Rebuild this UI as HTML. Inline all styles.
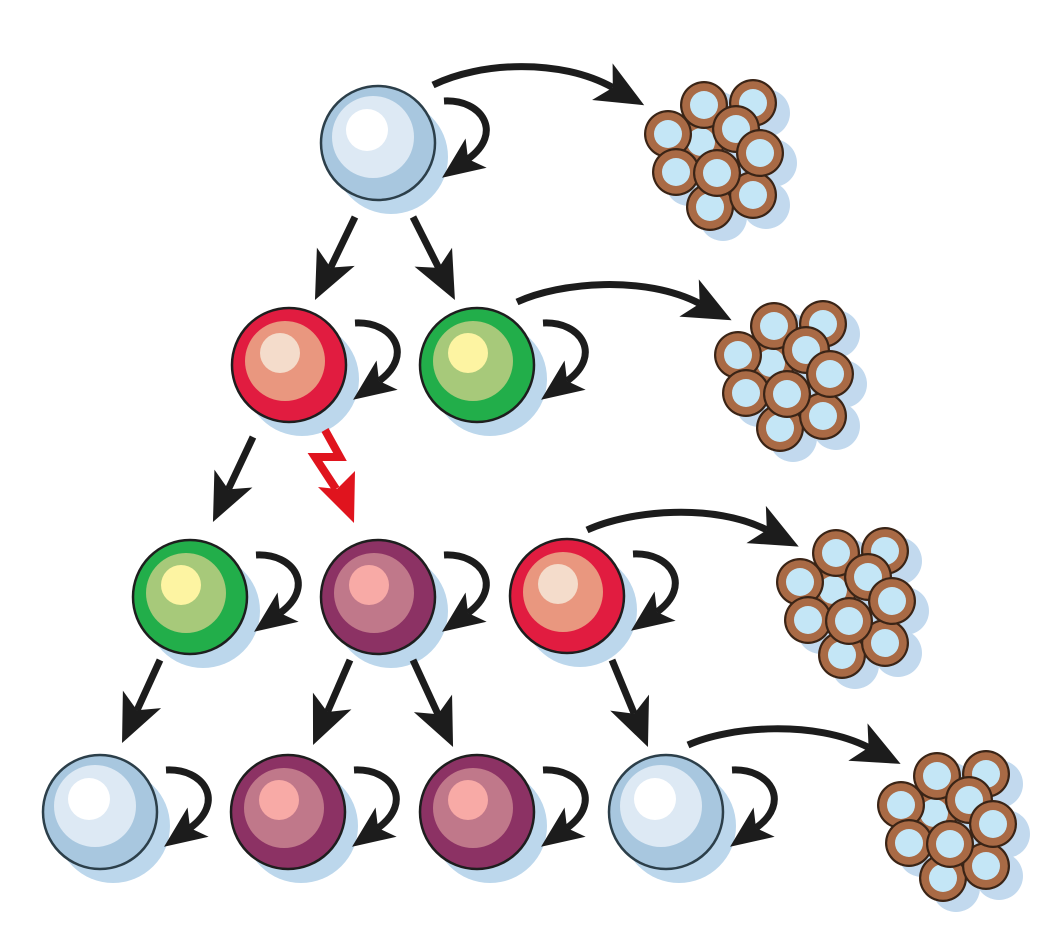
<!DOCTYPE html>
<html><head><meta charset="utf-8"><style>
html,body{margin:0;padding:0;background:#fff;}
svg{display:block;}
</style></head><body>
<svg width="1064" height="934" viewBox="0 0 1064 934" xmlns="http://www.w3.org/2000/svg">
<defs>
<marker id="ah" markerUnits="userSpaceOnUse" viewBox="0 -22 50 44" markerWidth="50" markerHeight="44" refX="12" refY="0" orient="auto" style="overflow:visible"><path d="M0,-21 L48,0 L0,21 L12,0 Z" fill="#1c1c1c"/></marker>
<marker id="lh" markerUnits="userSpaceOnUse" viewBox="0 -20 44 40" markerWidth="44" markerHeight="40" refX="10" refY="0" orient="auto" style="overflow:visible"><path d="M0,-18 L42,0 L0,18 L10,0 Z" fill="#1c1c1c"/></marker>
<g id="ring"><circle r="24" fill="#3a2416"/><circle r="21.8" fill="#a96a45"/><circle r="14" fill="#c4e6f6"/></g>
<g id="cl">
<g fill="#c2d9ee">
<circle cx="-1" cy="-3" r="24"/><circle cx="8" cy="62" r="24"/><circle cx="51" cy="50" r="24"/><circle cx="51" cy="-42" r="24"/><circle cx="-34" cy="-11" r="24"/><circle cx="2" cy="-40" r="24"/><circle cx="34" cy="-16" r="24"/><circle cx="58" cy="8" r="24"/><circle cx="-26" cy="27" r="24"/><circle cx="15" cy="28" r="24"/>
</g>
<use href="#ring" x="-14" y="-13"/>
<use href="#ring" x="-5" y="52"/>
<use href="#ring" x="38" y="40"/>
<use href="#ring" x="38" y="-52"/>
<use href="#ring" x="-47" y="-21"/>
<use href="#ring" x="-11" y="-50"/>
<use href="#ring" x="21" y="-26"/>
<use href="#ring" x="45" y="-2"/>
<use href="#ring" x="-39" y="17"/>
<use href="#ring" x="2" y="18"/>
</g>
<g id="loop"><path d="M66,-42 C104,-44 126,-10 90,16" fill="none" stroke="#1c1c1c" stroke-width="7" marker-end="url(#lh)"/></g>
<g id="sW"><circle r="57" fill="#a8c7df" stroke="#2c3f4a" stroke-width="2.5"/><circle cx="-5" cy="-6" r="41" fill="#dde9f4"/><circle cx="-11" cy="-13" r="21" fill="#ffffff"/></g>
<g id="sR"><circle r="57" fill="#e11c40" stroke="#1e1e1e" stroke-width="2.5"/><circle cx="-4" cy="-4" r="40" fill="#e9977f"/><circle cx="-9" cy="-12" r="20" fill="#f4dccb"/></g>
<g id="sG"><circle r="57" fill="#22ae4a" stroke="#1e1e1e" stroke-width="2.5"/><circle cx="-4" cy="-4" r="40" fill="#a7c97a"/><circle cx="-9" cy="-12" r="20" fill="#fdf4a2"/></g>
<g id="sP"><circle r="57" fill="#8c3264" stroke="#1e1e1e" stroke-width="2.5"/><circle cx="-4" cy="-4" r="40" fill="#c0788a"/><circle cx="-9" cy="-12" r="20" fill="#f8aaa6"/></g>
</defs>

<use href="#cl" x="715" y="155"/>
<use href="#cl" x="785" y="376"/>
<use href="#cl" x="847" y="603"/>
<use href="#cl" x="948" y="826"/>

<g fill="#bcd7ec">
<circle cx="391" cy="157" r="57"/>
<circle cx="302" cy="379" r="57"/>
<circle cx="490" cy="379" r="57"/>
<circle cx="203" cy="611" r="57"/>
<circle cx="391" cy="611" r="57"/>
<circle cx="580" cy="610" r="57"/>
<circle cx="113" cy="826" r="57"/>
<circle cx="301" cy="826" r="57"/>
<circle cx="490" cy="826" r="57"/>
<circle cx="679" cy="826" r="57"/>
</g>

<use href="#sW" x="378" y="143"/>
<use href="#sR" x="289" y="365"/>
<use href="#sG" x="477" y="365"/>
<use href="#sG" x="190" y="597"/>
<use href="#sP" x="378" y="597"/>
<use href="#sR" x="567" y="596"/>
<use href="#sW" x="100" y="812"/>
<use href="#sP" x="288" y="812"/>
<use href="#sP" x="477" y="812"/>
<use href="#sW" x="666" y="812"/>

<use href="#loop" x="378" y="143"/>
<use href="#loop" x="289" y="365"/>
<use href="#loop" x="477" y="365"/>
<use href="#loop" x="190" y="597"/>
<use href="#loop" x="378" y="597"/>
<use href="#loop" x="567" y="596"/>
<use href="#loop" x="100" y="812"/>
<use href="#loop" x="288" y="812"/>
<use href="#loop" x="477" y="812"/>
<use href="#loop" x="666" y="812"/>

<g fill="none" stroke="#1c1c1c" stroke-width="7" marker-end="url(#ah)">
<path d="M355,217 L330.6,267.6"/>
<path d="M413,217 L438.7,267.9"/>
<path d="M253,437 L228.3,489.4"/>
<path d="M160,660 L137,710.3"/>
<path d="M350,660 L327.4,712"/>
<path d="M413,660 L438,714.3"/>
<path d="M612,660 L634.2,713.7"/>
</g>

<g fill="none" stroke="#1c1c1c" stroke-width="7" marker-end="url(#ah)">
<path d="M433,85 C480,62 560,58 612.8,87.6"/>
<path d="M517,302 C560,282 645,275 699.7,303.6"/>
<path d="M587,530 C630,510 715,503 766.8,530"/>
<path d="M688,745 C730,726 815,720 868.6,747.5"/>
</g>

<polyline points="325,430 340,457 315,457 336,489" fill="none" stroke="#e0141e" stroke-width="8" stroke-linejoin="miter"/>
<polygon points="354,523 318,487 337,489 355,471" fill="#e0141e"/>
</svg>
</body></html>
